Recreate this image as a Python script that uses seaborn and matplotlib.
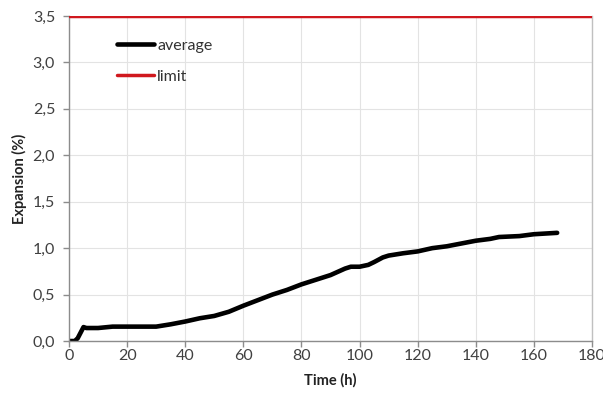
import numpy as np
import pandas as pd
import matplotlib
matplotlib.use('Agg')
import matplotlib.pyplot as plt
from matplotlib.ticker import FuncFormatter
import seaborn as sns

# Data
time_h = [0, 2, 3, 5, 6, 10, 15, 20, 30, 35, 40, 45, 50, 55, 60, 65, 70, 75, 80,
          85, 90, 95, 97, 100, 103, 105, 108, 110, 115, 120, 125, 130, 135, 140,
          145, 148, 155, 160, 168]
expansion = [0.0, 0.0, 0.03, 0.15, 0.14, 0.14, 0.155, 0.155, 0.155, 0.18, 0.21,
             0.245, 0.27, 0.315, 0.38, 0.44, 0.50, 0.55, 0.61, 0.66, 0.71, 0.78,
             0.80, 0.80, 0.82, 0.85, 0.90, 0.92, 0.945, 0.965, 1.00, 1.02, 1.05,
             1.08, 1.10, 1.12, 1.13, 1.15, 1.165]
limit_value = 3.5
x_ticks = list(range(0, 181, 20))
y_ticks = [0, 0.5, 1.0, 1.5, 2.0, 2.5, 3.0, 3.5]

df = pd.DataFrame({'Time (h)': time_h, 'Expansion (%)': expansion})

sns.set_style('whitegrid')
plt.rcParams['font.family'] = ['Lato', 'DejaVu Sans']

fig = plt.figure(figsize=(6.03, 4.03), dpi=100)
ax = fig.add_axes([0.1144, 0.1538, 0.8674, 0.8065])

sns.lineplot(data=df, x='Time (h)', y='Expansion (%)', ax=ax, color='black',
             linewidth=3.3, label='average')
ax.axhline(limit_value, color='#d0181e', linewidth=2.5, label='limit', zorder=5)

ax.set_xlim(0, 180)
ax.set_ylim(0, 3.5)
ax.set_xticks(x_ticks)
ax.set_yticks(y_ticks)
ax.yaxis.set_major_formatter(FuncFormatter(lambda v, p: f'{v:.1f}'.replace('.', ',')))
ax.grid(True, color='#e3e3e3', linewidth=0.8)

ax.spines['top'].set_visible(False)
ax.spines['right'].set_color('#c0c0c0')
ax.spines['right'].set_linewidth(1)
for s in ['left', 'bottom']:
    ax.spines[s].set_color('#8c8c8c')
    ax.spines[s].set_linewidth(1)

ax.tick_params(axis='both', which='major', labelsize=11.5, colors='#8c8c8c',
               labelcolor='#404040', length=4, width=1, direction='out',
               bottom=True, left=True)
ax.tick_params(axis='x', pad=2)
ax.tick_params(axis='y', pad=6)
ax.set_xlabel('Time (h)', fontsize=10.5, fontweight='bold', color='#222222',
              labelpad=7)
ax.set_ylabel('Expansion (%)', fontsize=10.5, fontweight='bold', color='#222222',
              labelpad=4)

leg = ax.legend(loc='upper left', bbox_to_anchor=(0.065, 0.975), frameon=False,
                fontsize=11.5, handlelength=2.3, handletextpad=0.2,
                labelspacing=1.05)
for t in leg.get_texts():
    t.set_color('#333333')

fig.savefig('out.png', dpi=100)
